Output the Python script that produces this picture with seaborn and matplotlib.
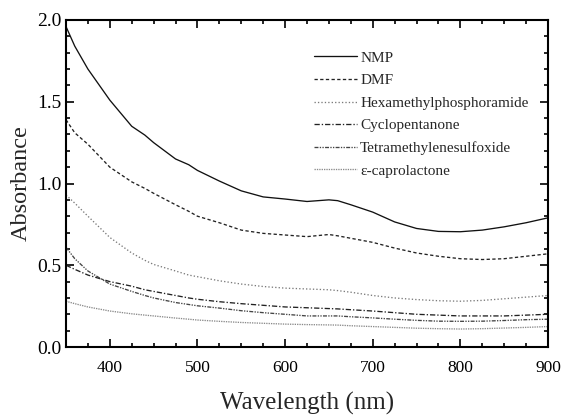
import matplotlib
matplotlib.use("Agg")
import matplotlib.pyplot as plt
from matplotlib.ticker import MultipleLocator
import seaborn as sns
import pandas as pd

wavelength = [350, 360, 375, 400, 425, 440, 450, 475, 490, 500, 525, 550, 575,
              600, 625, 650, 660, 675, 700, 725, 750, 775, 800, 825, 850, 875, 900]

nmp = [1.96, 1.84, 1.70, 1.51, 1.35, 1.296, 1.25, 1.15, 1.115, 1.08, 1.015, 0.955, 0.918,
       0.905, 0.89, 0.90, 0.895, 0.87, 0.825, 0.765, 0.725, 0.707, 0.705, 0.715, 0.735, 0.76, 0.79]
dmf = [1.39, 1.31, 1.24, 1.10, 1.01, 0.97, 0.94, 0.87, 0.83, 0.80, 0.76, 0.715, 0.695,
       0.685, 0.675, 0.688, 0.68, 0.665, 0.64, 0.605, 0.575, 0.555, 0.54, 0.535, 0.54, 0.555, 0.57]
hmpa = [0.93, 0.88, 0.80, 0.67, 0.575, 0.53, 0.505, 0.465, 0.44, 0.43, 0.405, 0.385, 0.37,
        0.36, 0.355, 0.35, 0.345, 0.335, 0.315, 0.30, 0.29, 0.283, 0.28, 0.285, 0.295, 0.305, 0.315]
cyclopentanone = [0.50, 0.475, 0.44, 0.40, 0.372, 0.35, 0.34, 0.315, 0.30, 0.292, 0.277, 0.265, 0.255,
                  0.245, 0.24, 0.235, 0.233, 0.228, 0.22, 0.21, 0.20, 0.195, 0.19, 0.19, 0.19, 0.195, 0.20]
tmso = [0.61, 0.54, 0.465, 0.385, 0.34, 0.315, 0.30, 0.272, 0.26, 0.252, 0.238, 0.222, 0.21,
        0.20, 0.19, 0.19, 0.19, 0.185, 0.178, 0.17, 0.163, 0.158, 0.157, 0.158, 0.162, 0.167, 0.17]
caprolactone = [0.28, 0.265, 0.245, 0.22, 0.203, 0.195, 0.19, 0.177, 0.17, 0.165, 0.157, 0.15, 0.145,
                0.14, 0.137, 0.135, 0.134, 0.13, 0.125, 0.12, 0.115, 0.112, 0.11, 0.112, 0.116, 0.12, 0.125]

names = ["NMP", "DMF", "Hexamethylphosphoramide", "Cyclopentanone",
         "Tetramethylenesulfoxide", "\u03b5-caprolactone"]
series = [nmp, dmf, hmpa, cyclopentanone, tmso, caprolactone]

rows = []
for n, s in zip(names, series):
    for w, v in zip(wavelength, s):
        rows.append({"Wavelength": w, "Absorbance": v, "Solvent": n})
df = pd.DataFrame(rows)

palette = {names[0]: "#111111", names[1]: "#222222", names[2]: "#7a7a7a",
           names[3]: "#222222", names[4]: "#444444", names[5]: "#8a8a8a"}
dashes = {names[0]: "", names[1]: (2.5, 1.8), names[2]: (1, 1.6),
          names[3]: (4, 1.5, 1, 1.5), names[4]: (3, 1, 1, 1, 1, 1), names[5]: (1, 0.8)}

sns.set_style("ticks")
plt.rcParams["font.family"] = ["Liberation Serif", "DejaVu Serif"]

fig = plt.figure(figsize=(5.79, 4.2), dpi=100)
ax = fig.add_axes([66/579, 1 - 347/420, (548-66)/579, (347-20)/420])

sns.lineplot(data=df, x="Wavelength", y="Absorbance", hue="Solvent", style="Solvent",
             palette=palette, dashes=dashes, hue_order=names, style_order=names,
             linewidth=0.95, ax=ax, legend=True, sort=True, estimator=None)

ax.set_xlim(350, 900)
ax.set_ylim(0.0, 2.0)
ax.xaxis.set_major_locator(MultipleLocator(100))
ax.xaxis.set_minor_locator(MultipleLocator(25))
ax.yaxis.set_major_locator(MultipleLocator(0.5))
ax.yaxis.set_minor_locator(MultipleLocator(0.1))
ax.yaxis.set_major_formatter(matplotlib.ticker.FormatStrFormatter("%.1f"))
ax.tick_params(which="both", direction="in", top=True, right=True, width=1.2, colors="black")
ax.tick_params(which="major", length=6)
ax.tick_params(which="minor", length=3)
ax.tick_params(axis="x", which="major", labelsize=12.5, pad=9)
ax.tick_params(axis="y", which="major", labelsize=14, pad=3)
for sp in ax.spines.values():
    sp.set_linewidth(1.5)
    sp.set_color("black")

ax.set_xlabel("Wavelength (nm)", fontsize=18, labelpad=12)
ax.set_ylabel("Absorbance", fontsize=17.5, labelpad=4)

handles, labels = ax.get_legend_handles_labels()
leg = ax.legend(handles, labels, loc="upper left", bbox_to_anchor=(0.515, 0.905),
                frameon=False, fontsize=11, handlelength=2.8, handletextpad=0.2,
                labelspacing=0.58, borderpad=0, borderaxespad=0)

fig.savefig("out.png", dpi=100)
